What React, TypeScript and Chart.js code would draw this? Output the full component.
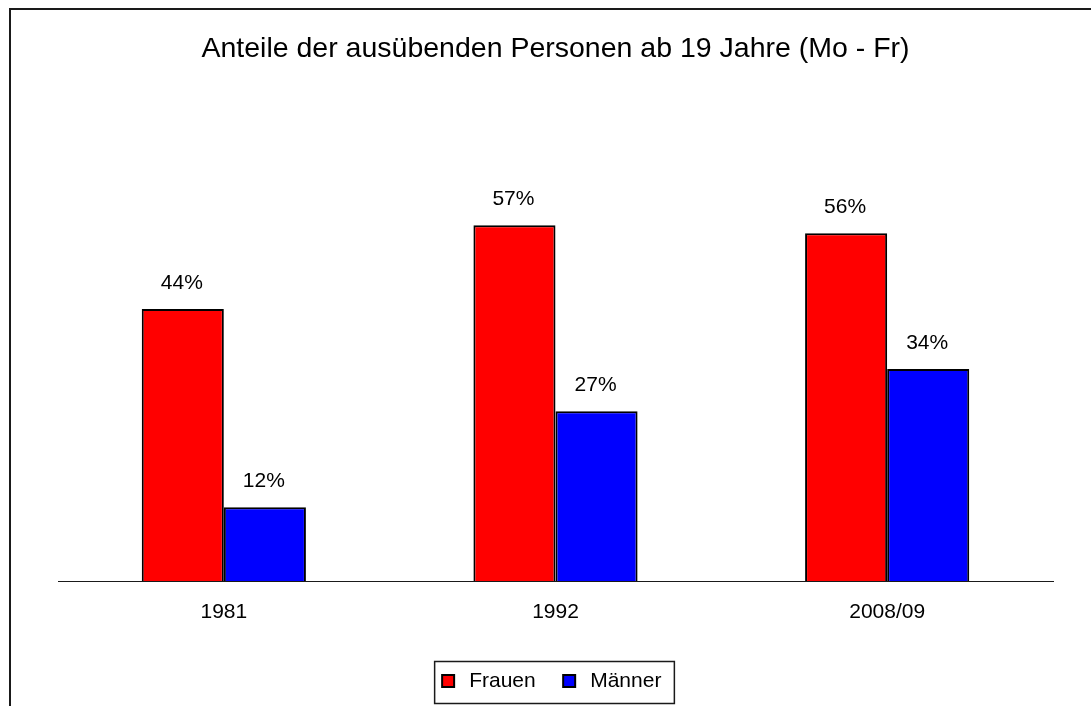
import { useEffect, useRef } from "react";
import { Chart, registerables } from "chart.js";

Chart.register(...registerables);

const categories = ["1981", "1992", "2008/09"];
const frauenValues = [43.9, 57.4, 56.1];
const maennerValues = [11.9, 27.4, 34.2];
const seriesNames = ["Frauen", "Männer"];
const titleText = "Anteile der ausübenden Personen ab 19 Jahre (Mo - Fr)";

const FONT = "'Liberation Sans', Arial, Helvetica, sans-serif";

const framePlugin = {
  id: "frame",
  afterDraw(chart: any) {
    const ctx = chart.ctx;
    ctx.save();
    ctx.strokeStyle = "#1a1a1a";
    ctx.lineWidth = 2;
    ctx.beginPath();
    ctx.moveTo(10, chart.height + 2);
    ctx.lineTo(10, 9);
    ctx.lineTo(chart.width + 2, 9);
    ctx.stroke();
    ctx.restore();
  },
};

const legendShiftPlugin = {
  id: "legendShift",
  afterLayout(chart: any) {
    const lg = chart.legend;
    if (!lg) return;
    lg.left -= 6;
    lg.right -= 6;
  },
};

const valueLabelPlugin = {
  id: "valueLabels",
  afterDatasetsDraw(chart: any) {
    const ctx = chart.ctx;
    ctx.save();
    ctx.font = `21px ${FONT}`;
    ctx.fillStyle = "#000";
    ctx.textAlign = "center";
    ctx.textBaseline = "middle";
    chart.data.datasets.forEach((ds: any, di: number) => {
      const meta = chart.getDatasetMeta(di);
      meta.data.forEach((bar: any, i: number) => {
        const v = ds.data[i] as number;
        ctx.fillText(`${Math.round(v)}%`, bar.x - 1, bar.y - 26);
      });
    });
    ctx.restore();
  },
};

const legendBoxPlugin = {
  id: "legendBox",
  afterDraw(chart: any) {
    const lg = chart.legend;
    if (!lg || !lg.legendHitBoxes || !lg.legendHitBoxes.length) return;
    const hbs = lg.legendHitBoxes;
    let left = Infinity;
    let right = -Infinity;
    let cy = 0;
    hbs.forEach((hb: any) => {
      left = Math.min(left, hb.left);
      right = Math.max(right, hb.left + hb.width);
      cy = hb.top + hb.height / 2;
    });
    const ctx = chart.ctx;
    ctx.save();
    ctx.strokeStyle = "#1a1a1a";
    ctx.lineWidth = 1.5;
    ctx.strokeRect(left - 3, cy - 19.5, right - left + 16, 42);
    ctx.restore();
  },
};

export default function App() {
  const canvasRef = useRef<HTMLCanvasElement | null>(null);

  useEffect(() => {
    if (!canvasRef.current) return;
    const chart = new Chart(canvasRef.current, {
      type: "bar",
      data: {
        labels: categories,
        datasets: [
          {
            label: seriesNames[0],
            data: frauenValues,
            backgroundColor: "#FF0000",
            borderColor: "#000000",
            borderWidth: 2,
            categoryPercentage: 0.495,
            barPercentage: 1,
          },
          {
            label: seriesNames[1],
            data: maennerValues,
            backgroundColor: "#0000FF",
            borderColor: "#000000",
            borderWidth: 2,
            categoryPercentage: 0.495,
            barPercentage: 1,
          },
        ],
      },
      options: {
        animation: false,
        responsive: true,
        maintainAspectRatio: false,
        layout: { padding: { left: 58, right: 38, top: 0, bottom: 4.5 } },
        font: { family: FONT },
        plugins: {
          title: {
            display: true,
            text: titleText,
            color: "#000",
            font: { family: FONT, size: 28.5, weight: "normal" },
            padding: { top: 32, bottom: 81 },
          },
          legend: {
            display: true,
            position: "bottom",
            labels: {
              color: "#000",
              font: { family: FONT, size: 21 },
              usePointStyle: true,
              pointStyle: "rect",
              boxWidth: 21,
              boxHeight: 12,
              padding: 23,
            },
          },
          tooltip: { enabled: false },
        },
        scales: {
          x: {
            grid: { display: false, drawTicks: false },
            border: { display: true, color: "#1a1a1a", width: 1 },
            ticks: {
              color: "#000",
              font: { family: FONT, size: 21 },
              padding: 19,
            },
            afterFit: (scale: any) => {
              scale.height = 66.5;
            },
          },
          y: {
            display: false,
            min: 0,
            max: 70,
          },
        },
      },
      plugins: [framePlugin, legendShiftPlugin, valueLabelPlugin, legendBoxPlugin],
    });
    return () => chart.destroy();
  }, []);

  return (
    <div
      style={{
        position: "fixed",
        left: 0,
        top: 0,
        width: 1091,
        height: 706,
        background: "#fff",
      }}
    >
      <canvas ref={canvasRef} />
    </div>
  );
}
